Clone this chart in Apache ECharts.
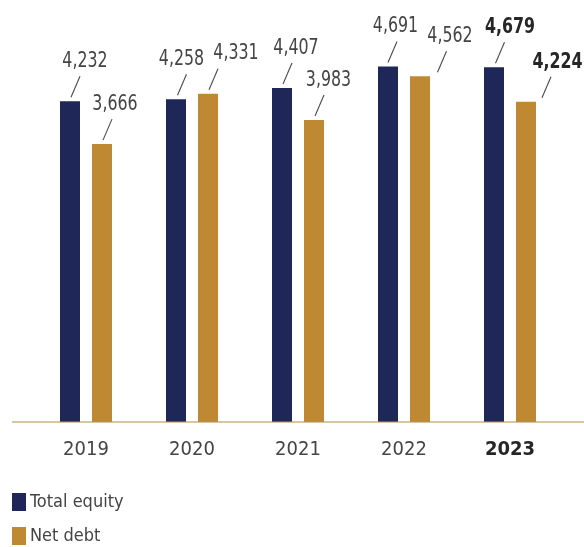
<!DOCTYPE html>
<html>
<head>
<meta charset="utf-8">
<script src="https://cdn.jsdelivr.net/npm/echarts@6/dist/echarts.min.js"></script>
<style>
  html, body { margin: 0; padding: 0; background: #ffffff; }
  #chart { width: 584px; height: 547px; }
</style>
</head>
<body>
<div id="chart"></div>
<script>
// Total equity vs net debt, 2019-2023
const years = ['2019', '2020', '2021', '2022', '2023'];
const totalEquity = [4232, 4258, 4407, 4691, 4679];
const netDebt = [3666, 4331, 3983, 4562, 4224];

// Horizontal nudges (px) for each value callout so neighbouring labels don't collide
const equityCallout = { text: [15, 5.5, 14, 7.5, 16], line: [1, 1.5, 1, 0, 1.5] };
const debtCallout = { text: [13, 28, 14.5, 30, 31.5], line: [1, 1, 1, 17.5, 16] };

const NAVY = '#1f2758';
const GOLD = '#bf8934';
const TEXT = '#444444';
const FONT = "'DejaVu Sans Condensed', 'Liberation Sans', sans-serif";
const BAR_W = 20;
const BAR_GAP = 12;
const NARROW = 0.8;   // horizontal squeeze for the callout figures
const latest = years.length - 1;

const fmt = v => v.toLocaleString('en-US');

function calloutSeries(id, values, side, nudge) {
  return {
    type: 'custom',
    id: id,
    coordinateSystem: 'cartesian2d',
    silent: true,
    z: 5,
    data: values.map((v, i) => [i, v]),
    renderItem(params, api) {
      const i = api.value(0);
      const pt = api.coord([i, api.value(1)]);
      const cx = pt[0] + side * (BAR_W + BAR_GAP) / 2;
      const y = pt[1];
      const lx = cx + nudge.line[i];
      const tx = cx + nudge.text[i];
      const ty = y - 40;
      return {
        type: 'group',
        children: [
          {
            type: 'line',
            shape: { x1: lx, y1: y - 4, x2: lx + 9, y2: y - 25 },
            style: { stroke: '#4a4a4a', lineWidth: 1.1 }
          },
          {
            type: 'text',
            x: tx,
            y: ty,
            scaleX: NARROW,
            style: {
              text: fmt(values[i]),
              fontSize: 22,
              fontFamily: FONT,
              fontWeight: i === latest ? 'bold' : 'normal',
              fill: i === latest ? '#262626' : TEXT,
              align: 'center',
              verticalAlign: 'middle'
            }
          }
        ]
      };
    }
  };
}

const chart = echarts.init(document.getElementById('chart'), null, { renderer: 'canvas' });

chart.setOption({
  backgroundColor: '#ffffff',
  animation: false,
  textStyle: { fontFamily: FONT },
  grid: { left: 33, right: 21, top: 43, bottom: 125, containLabel: false },
  legend: {
    data: ['Total equity', 'Net debt'],
    orient: 'vertical',
    left: 12,
    top: 493,
    padding: 0,
    icon: 'rect',
    itemWidth: 14,
    itemHeight: 18,
    itemGap: 16,
    textStyle: { fontSize: 18, color: TEXT, fontFamily: FONT, padding: [0, 0, 0, -1] }
  },
  xAxis: {
    type: 'category',
    data: years,
    axisLine: { show: false },
    axisTick: { show: false },
    axisLabel: {
      interval: 0,
      margin: 18,
      fontSize: 20,
      color: TEXT,
      fontFamily: FONT,
      formatter: (v, i) => (i === latest ? '{b|' + v + '}' : v),
      rich: { b: { fontSize: 20, fontWeight: 'bold', color: '#262626', fontFamily: FONT } }
    }
  },
  yAxis: {
    type: 'value',
    min: 0,
    max: 5000,
    show: false,
    splitLine: { show: false }
  },
  series: [
    {
      name: 'Total equity',
      type: 'bar',
      data: totalEquity,
      barWidth: BAR_W,
      barGap: (BAR_GAP / BAR_W * 100) + '%',
      itemStyle: { color: NAVY }
    },
    {
      name: 'Net debt',
      type: 'bar',
      data: netDebt,
      barWidth: BAR_W,
      itemStyle: { color: GOLD }
    },
    calloutSeries('equity-callouts', totalEquity, -1, equityCallout),
    calloutSeries('debt-callouts', netDebt, 1, debtCallout)
  ]
});

// Baseline running across the full width, drawn over the bar feet
const y0 = chart.convertToPixel({ gridIndex: 0 }, [0, 0])[1];
chart.setOption({
  graphic: [{
    type: 'line',
    z: 20,
    shape: { x1: 12, y1: y0, x2: 584, y2: y0 },
    style: { stroke: '#b59255', lineWidth: 1.6, opacity: 0.7 }
  }]
});
</script>
</body>
</html>
